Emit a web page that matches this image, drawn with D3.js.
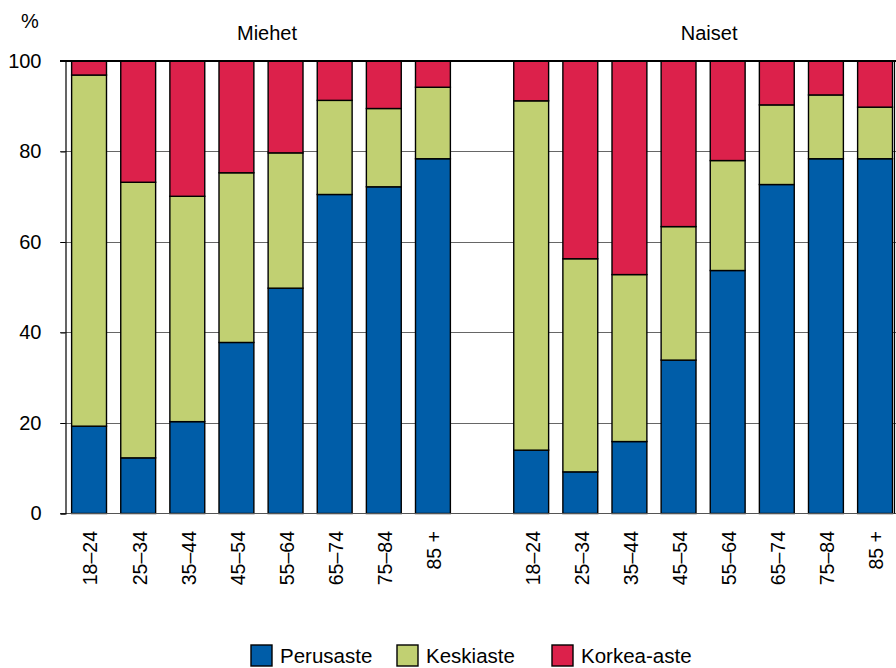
<!DOCTYPE html>
<html><head><meta charset="utf-8">
<script src="https://cdn.jsdelivr.net/npm/d3@7"></script>
<style>body{margin:0;background:#fff}svg{display:block;font-family:"Liberation Sans",Arial,sans-serif}</style>
</head><body><svg id="c" width="896" height="668"></svg>
<script>
const ageGroups = ["18–24","25–34","35–44","45–54","55–64","65–74","75–84","85 +"];
const groups = ["Miehet","Naiset"];
const seriesNames = ["Perusaste","Keskiaste","Korkea-aste"];
const miehetPerus  = [19.3,12.3,20.3,37.8,49.8,70.5,72.2,78.4];
const miehetKeski  = [77.6,60.9,49.8,37.5,29.9,20.8,17.3,15.8];
const miehetKorkea = [3.1,26.8,29.9,24.7,20.3,8.7,10.5,5.8];
const naisetPerus  = [14.0,9.2,15.9,33.9,53.7,72.7,78.4,78.4];
const naisetKeski  = [77.2,47.1,36.9,29.5,24.3,17.6,14.1,11.4];
const naisetKorkea = [8.8,43.7,47.2,36.6,22.0,9.7,7.5,10.2];
const yTicks = [0,20,40,60,80,100];
const colors = ["#005DA8","#C1D072","#DC214B"];

const svg = d3.select("#c");
const slots = [];
ageGroups.forEach((a,i)=>slots.push("M"+i));
slots.push("gap");
ageGroups.forEach((a,i)=>slots.push("N"+i));

const x = d3.scaleBand().domain(slots).range([64.5, 64.5+17*49.125]).paddingInner(0.29).paddingOuter(0.145);
const y = d3.scaleLinear().domain([0,100]).range([513.5,61]);

const rows = [];
ageGroups.forEach((a,i)=>rows.push({key:"M"+i,label:a,Perusaste:miehetPerus[i],Keskiaste:miehetKeski[i],"Korkea-aste":miehetKorkea[i]}));
ageGroups.forEach((a,i)=>rows.push({key:"N"+i,label:a,Perusaste:naisetPerus[i],Keskiaste:naisetKeski[i],"Korkea-aste":naisetKorkea[i]}));
rows.forEach(r=>{const s=seriesNames.reduce((t,k)=>t+r[k],0); seriesNames.forEach(k=>r[k]=r[k]*100/s);});

const stack = d3.stack().keys(seriesNames)(rows);

// gridlines
svg.append("g").selectAll("line").data(yTicks.filter(t=>t>0&&t<100)).join("line")
  .attr("x1",60).attr("x2",896).attr("y1",d=>Math.round(y(d))+0.5).attr("y2",d=>Math.round(y(d))+0.5)
  .attr("stroke","#666").attr("stroke-width",1.1);

// bars
svg.append("g").selectAll("g").data(stack).join("g")
  .attr("fill",(d,i)=>colors[i])
  .selectAll("rect").data(d=>d).join("rect")
  .attr("x",d=>x(d.data.key)).attr("width",x.bandwidth())
  .attr("y",d=>y(d[1])).attr("height",d=>y(d[0])-y(d[1]))
  .attr("stroke","#000").attr("stroke-width",1.4);

svg.append("line").attr("x1",60).attr("x2",896).attr("y1",y(100)).attr("y2",y(100)).attr("stroke","#000").attr("stroke-width",2);
svg.append("line").attr("x1",60).attr("x2",896).attr("y1",y(0)).attr("y2",y(0)).attr("stroke","#555").attr("stroke-width",1.2);

// y axis
const yAxis = d3.axisLeft(y).tickValues(yTicks).tickSize(5).tickPadding(19);
const ya = svg.append("g").attr("transform","translate(65.5,0)").call(yAxis);
ya.select(".domain").attr("stroke","#000").attr("stroke-width",1.2);
ya.selectAll(".tick line").attr("stroke","#000");
ya.selectAll("text").attr("font-size",20).attr("fill","#000").attr("font-family","Liberation Sans, Arial, sans-serif");
svg.append("line").attr("x1",894.5).attr("x2",894.5).attr("y1",y(100)).attr("y2",y(0)).attr("stroke","#000").attr("stroke-width",1.2);

// x labels
svg.append("g").selectAll("text").data(rows).join("text")
  .attr("transform",d=>`translate(${x(d.key)+x.bandwidth()/2+1.5},531) rotate(-90)`)
  .attr("text-anchor","end").attr("dy","0.35em").attr("font-size",19.5).attr("fill","#000")
  .text(d=>d.label);

// titles
svg.append("text").attr("x",30).attr("y",28).attr("text-anchor","middle").attr("font-size",20).text("%");
const groupCenters = [
  (x("M0")+x("M7")+x.bandwidth())/2,
  (x("N0")+x("N7")+x.bandwidth())/2
];
svg.selectAll(".gt").data(groups).join("text").attr("class","gt")
  .attr("x",(d,i)=>groupCenters[i]+6).attr("y",40).attr("text-anchor","middle").attr("font-size",20).text(d=>d);

// legend
const legX = [251,397,552];
const lg = svg.append("g").selectAll("g").data(seriesNames).join("g").attr("transform",(d,i)=>`translate(${legX[i]},645)`);
lg.append("rect").attr("width",21).attr("height",21).attr("fill",(d,i)=>colors[i]).attr("stroke","#000").attr("stroke-width",1.4);
lg.append("text").attr("x",29).attr("y",18).attr("font-size",20.5).text(d=>d);
</script></body></html>
